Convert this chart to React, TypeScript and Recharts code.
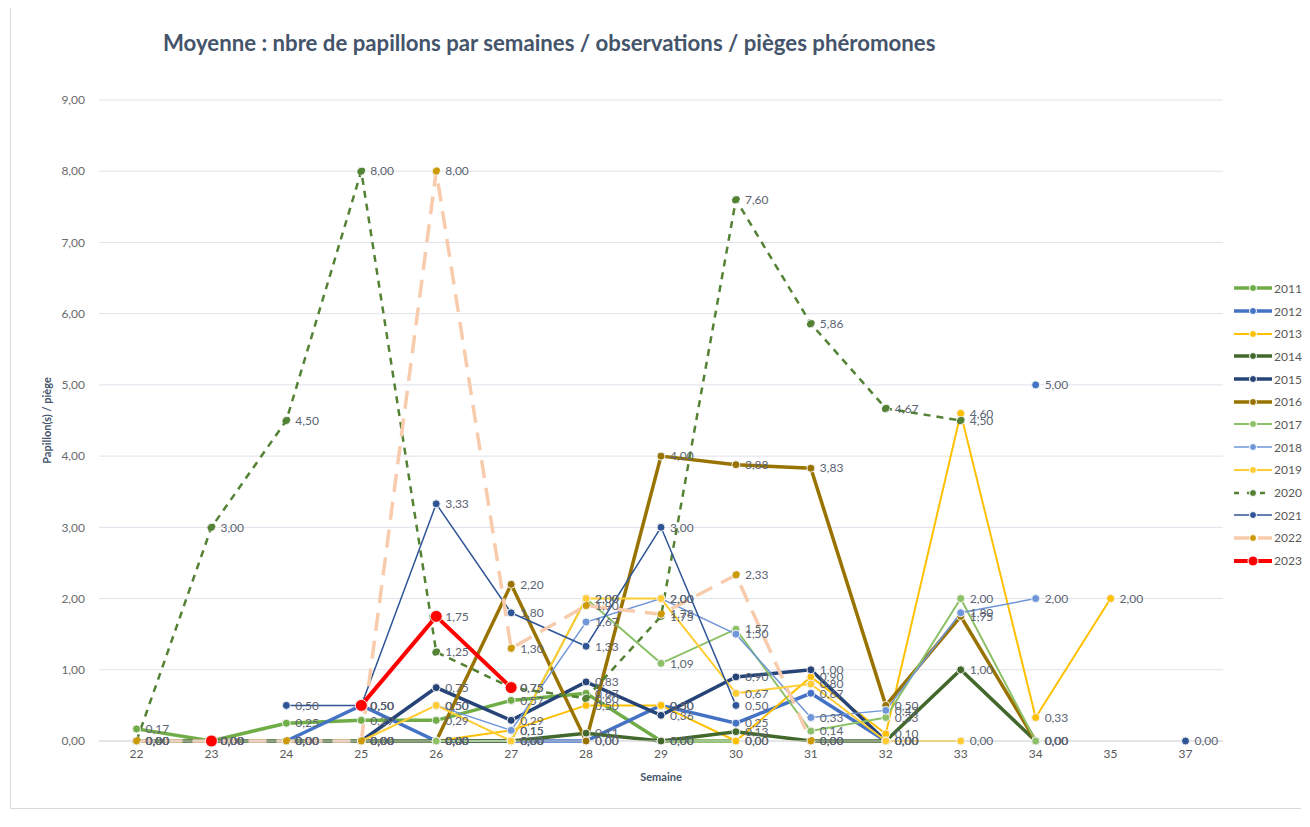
import React from "react";
import {
  LineChart,
  Line,
  XAxis,
  YAxis,
  CartesianGrid,
  LabelList,
} from "recharts";

const weeks = ["22", "23", "24", "25", "26", "27", "28", "29", "30", "31", "32", "33", "34", "35", "37"];

// one value per week above, null = no observation
const y2011 = [0.17, 0, 0.25, 0.29, 0.29, 0.57, 0.67, 0, 0, null, null, null, null, null, null];
const y2012 = [null, null, 0, 0.5, 0, 0, 0, 0.5, 0.25, 0.67, 0, null, 5.0, null, null];
const y2013 = [0, 0, 0, 0, 0, 0.15, 0.5, 0.5, 0, 0.9, 0.1, 4.6, 0.33, 2.0, null];
const y2014 = [0, 0, 0, 0, 0, 0, 0.11, 0, 0.13, 0, 0, 1.0, 0, null, null];
const y2015 = [null, null, null, 0, 0.75, 0.29, 0.83, 0.36, 0.9, 1.0, 0, null, null, null, null];
const y2016 = [null, null, null, null, 0, 2.2, 0, 4.0, 3.88, 3.83, 0.5, 1.75, 0, null, null];
const y2017 = [null, null, null, null, 0, 0, 2.0, 1.09, 1.57, 0.14, 0.33, 2.0, 0, null, null];
const y2018 = [null, null, null, null, 0.5, 0.15, 1.67, 2.0, 1.5, 0.33, 0.43, 1.8, 2.0, null, null];
const y2019 = [null, null, null, 0, 0.5, 0, 2.0, 2.0, 0.67, 0.8, 0, 0, null, null, null];
const y2020 = [0, 3.0, 4.5, 8.0, 1.25, 0.75, 0.6, 1.75, 7.6, 5.86, 4.67, 4.5, null, null, null];
const y2021 = [null, null, 0.5, 0.5, 3.33, 1.8, 1.33, 3.0, 0.5, null, null, null, null, null, 0];
const y2022 = [0, 0, 0, 0, 8.0, 1.3, 1.9, 1.78, 2.33, 0, null, null, null, null, null];
const y2023 = [null, 0, null, 0.5, 1.75, 0.75, null, null, null, null, null, null, null, null, null];

const yTicks = [0, 1, 2, 3, 4, 5, 6, 7, 8, 9];

const series = [
  { key: "2011", values: y2011, color: "#70AD47", dot: "#70AD47", width: 3.5, dash: undefined, r: 4 },
  { key: "2012", values: y2012, color: "#4472C4", dot: "#4472C4", width: 3.5, dash: undefined, r: 4 },
  { key: "2013", values: y2013, color: "#FFC000", dot: "#FFC000", width: 2, dash: undefined, r: 4 },
  { key: "2014", values: y2014, color: "#43682B", dot: "#43682B", width: 3.5, dash: undefined, r: 4 },
  { key: "2015", values: y2015, color: "#264478", dot: "#264478", width: 3.5, dash: undefined, r: 4 },
  { key: "2016", values: y2016, color: "#997300", dot: "#997300", width: 3.5, dash: undefined, r: 4 },
  { key: "2017", values: y2017, color: "#8CC168", dot: "#8CC168", width: 2, dash: undefined, r: 4 },
  { key: "2018", values: y2018, color: "#6F96D8", dot: "#6F96D8", width: 1.5, dash: undefined, r: 4 },
  { key: "2019", values: y2019, color: "#FFCD33", dot: "#FFCD33", width: 2, dash: undefined, r: 4 },
  { key: "2020", values: y2020, color: "#548235", dot: "#548235", width: 2.5, dash: "7 6", r: 4 },
  { key: "2021", values: y2021, color: "#2F5597", dot: "#2F5597", width: 1.5, dash: undefined, r: 4 },
  { key: "2022", values: y2022, color: "#F8CBAD", dot: "#CC9A06", width: 3.5, dash: "18 10", r: 4 },
  { key: "2023", values: y2023, color: "#FF0000", dot: "#FF0000", width: 4, dash: undefined, r: 6 },
];

const data = weeks.map((w, i) => {
  const row: Record<string, string | number | null> = { week: w };
  series.forEach((s) => {
    row["y" + s.key] = s.values[i];
  });
  return row;
});

const fmt = (v: any) =>
  v === null || v === undefined ? "" : Number(v).toFixed(2).replace(".", ",");

const FONT = "Lato, 'Open Sans', sans-serif";

const LegendBox = () => (
  <div style={{ position: "absolute", left: 1222, top: 277, width: 72, fontFamily: FONT, whiteSpace: "nowrap" }}>
    {series.map((s) => (
      <div key={s.key} style={{ display: "flex", alignItems: "center", height: 22.7 }}>
        <svg width={40} height={12} style={{ flexShrink: 0 }}>
          <line
            x1={1}
            y1={6}
            x2={39}
            y2={6}
            stroke={s.color}
            strokeWidth={s.width}
            strokeDasharray={s.dash ? (s.key === "2020" ? "5 8" : "16 8") : undefined}
          />
          <circle cx={20} cy={6} r={s.r === 6 ? 5 : 3.5} fill={s.dot} stroke="#fff" strokeWidth={1} />
        </svg>
        <span style={{ fontSize: 12, color: "#595959", marginLeft: 1 }}>{s.key}</span>
      </div>
    ))}
  </div>
);

export default function App() {
  return (
    <div
      style={{
        position: "relative",
        width: 1290,
        height: 800,
        borderLeft: "1px solid #D9D9D9",
        borderBottom: "1px solid #D9D9D9",
        marginLeft: 2,
        marginTop: -8,
        paddingTop: 8,
      }}
    >
      <div
        style={{
          position: "absolute",
          left: 152,
          top: 29,
          fontFamily: FONT,
          fontWeight: 700,
          fontSize: 22.2,
          color: "#44546A",
          whiteSpace: "nowrap",
        }}
      >
        Moyenne : nbre de papillons par semaines / observations / pièges phéromones
      </div>
      <LineChart
        width={1290}
        height={800}
        data={data}
        margin={{ top: 92, right: 78, bottom: 27, left: 28 }}
        style={{ fontFamily: FONT }}
      >
        <CartesianGrid vertical={false} stroke="#DEE2EA" strokeWidth={1} />
        <XAxis
          dataKey="week"
          height={40}
          padding={{ left: 37.5, right: 37.5 }}
          tickLine={false}
          axisLine={{ stroke: "#D9D9D9" }}
          tick={{ fontSize: 12, fill: "#595959" }}
          label={{
            value: "Semaine",
            position: "insideBottom",
            offset: 0,
            style: { fontSize: 11, fontWeight: 700, fill: "#44546A" },
          }}
        />
        <YAxis
          width={60}
          domain={[0, 9]}
          ticks={yTicks}
          tickLine={false}
          axisLine={false}
          tickMargin={8}
          tickFormatter={fmt}
          tick={{ fontSize: 12, fill: "#6B6B6B" }}
          label={{
            value: "Papillon(s) / piège",
            angle: -90,
            position: "insideLeft",
            offset: 8,
            style: { fontSize: 11, fontWeight: 700, fill: "#44546A", textAnchor: "middle" },
          }}
        />
        {series.map((s) => (
          <Line
            key={s.key}
            dataKey={"y" + s.key}
            name={s.key}
            type="linear"
            stroke={s.color}
            strokeWidth={s.width}
            strokeDasharray={s.dash}
            dot={{ r: s.r, fill: s.dot, stroke: "#F2F2F2", strokeWidth: 1 }}
            activeDot={false}
            isAnimationActive={false}
          >
            <LabelList
              dataKey={"y" + s.key}
              position="right"
              offset={9}
              formatter={fmt}
              fontSize={12}
              fill="#5B6472"
            />
          </Line>
        ))}
      </LineChart>
      <LegendBox />
    </div>
  );
}
